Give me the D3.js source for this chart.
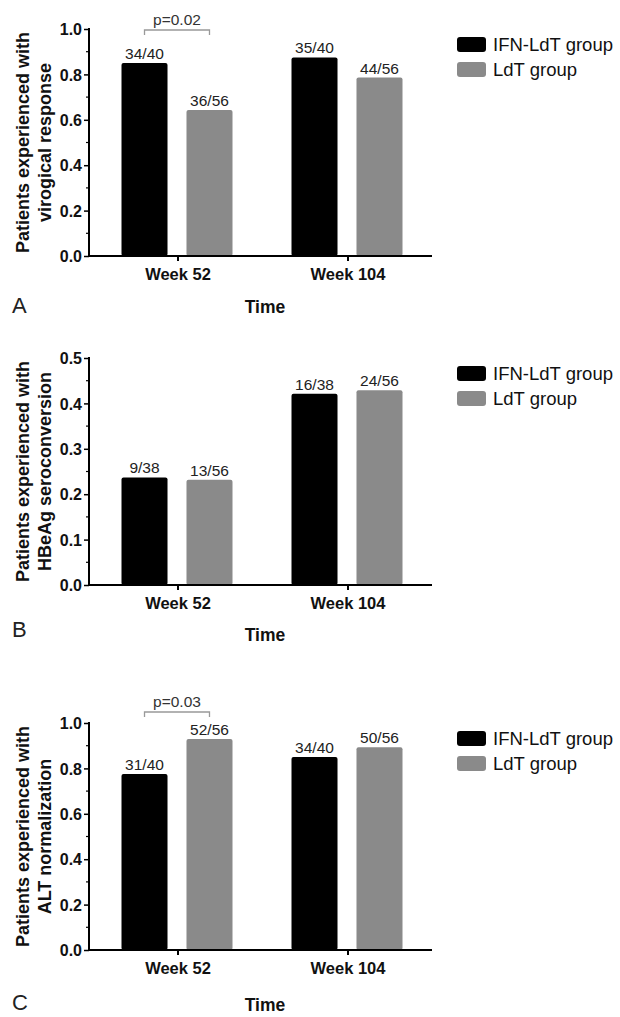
<!DOCTYPE html>
<html>
<head>
<meta charset="utf-8">
<script src="https://cdn.jsdelivr.net/npm/d3@7"></script>
<style>
  body { margin: 0; background: #fff; }
  text { font-family: "Liberation Sans", Arial, sans-serif; }
</style>
</head>
<body>
<div id="root"></div>
<script>
// data
var weeks = ["Week 52", "Week 104"];
var groups = ["IFN-LdT group", "LdT group"];
var colors = ["#000000", "#8a8a8a"];

var virologicIFN = [0.85, 0.875];
var virologicLdT = [0.643, 0.786];
var virologicLabelsIFN = ["34/40", "35/40"];
var virologicLabelsLdT = ["36/56", "44/56"];

var seroIFN = [0.237, 0.421];
var seroLdT = [0.232, 0.429];
var seroLabelsIFN = ["9/38", "16/38"];
var seroLabelsLdT = ["13/56", "24/56"];

var altIFN = [0.775, 0.85];
var altLdT = [0.929, 0.893];
var altLabelsIFN = ["31/40", "34/40"];
var altLabelsLdT = ["52/56", "50/56"];

var ticksA = [0, 0.2, 0.4, 0.6, 0.8, 1.0];
var ticksB = [0, 0.1, 0.2, 0.3, 0.4, 0.5];

var svg = d3.select("#root")
    .append("svg")
    .attr("width", 620)
    .attr("height", 1017);

// one panel per outcome
var panels = [
    { letter: "A", top: 29, yMax: 1.0, ticks: ticksA, ifn: virologicIFN, ldt: virologicLdT,
      labIfn: virologicLabelsIFN, labLdt: virologicLabelsLdT,
      title: ["Patients experienced with", "virogical response"], p: "p=0.02", timeGap: 57, letterGap: 57 },
    { letter: "B", top: 358, yMax: 0.5, ticks: ticksB, ifn: seroIFN, ldt: seroLdT,
      labIfn: seroLabelsIFN, labLdt: seroLabelsLdT,
      title: ["Patients experienced with", "HBeAg seroconversion"], p: null, timeGap: 56, letterGap: 52 },
    { letter: "C", top: 723, yMax: 1.0, ticks: ticksA, ifn: altIFN, ldt: altLdT,
      labIfn: altLabelsIFN, labLdt: altLabelsLdT,
      title: ["Patients experienced with", "ALT normalization"], p: "p=0.03", timeGap: 61, letterGap: 60 }
];

var axisLeftX = 89, axisRightX = 432, plotH = 227;

panels.forEach(function(p) { drawPanel(p); });

function drawPanel(p)
{
    var g = svg.append("g").attr("transform", "translate(0," + p.top + ")");

    var y = d3.scaleLinear().domain([0, p.yMax]).range([plotH, 0]);

    var x0 = d3.scaleBand().domain(weeks).range([92, 432]);
    var x1 = d3.scaleBand().domain(groups).range([29.5, 140.5]).paddingInner(0.292);

    // bars
    var rows = weeks.map(function(w, i) {
        return [
            { week: w, group: groups[0], v: p.ifn[i], lab: p.labIfn[i], c: colors[0] },
            { week: w, group: groups[1], v: p.ldt[i], lab: p.labLdt[i], c: colors[1] }
        ];
    }).flat();

    g.selectAll("rect.bar")
        .data(rows)
        .enter().append("rect")
        .attr("class", "bar")
        .attr("x", function(d) { return x0(d.week) + x1(d.group); })
        .attr("y", function(d) { return y(d.v); })
        .attr("width", x1.bandwidth())
        .attr("height", function(d) { return plotH - y(d.v); })
        .attr("rx", 2)
        .attr("fill", function(d) { return d.c; });

    g.selectAll("text.val")
        .data(rows)
        .enter().append("text")
        .attr("class", "val")
        .attr("x", function(d) { return x0(d.week) + x1(d.group) + x1.bandwidth() / 2; })
        .attr("y", function(d) { return y(d.v) - 4; })
        .attr("text-anchor", "middle")
        .style("font-size", "15.5px")
        .attr("fill", "#222")
        .text(function(d) { return d.lab; });

    // y axis with minor ticks
    var minor = [];
    for (var i = 0; i < p.ticks.length - 1; i++) minor.push((p.ticks[i] + p.ticks[i + 1]) / 2);

    var yAxis = g.append("g")
        .attr("transform", "translate(" + axisLeftX + ",0)")
        .call(d3.axisLeft(y).tickValues(p.ticks).tickSize(5).tickPadding(2).tickFormat(d3.format(".1f")));
    yAxis.select(".domain").attr("stroke-width", 2).attr("d", "M0,-1V" + (plotH + 1));
    yAxis.selectAll(".tick line").attr("stroke-width", 1.5);
    yAxis.selectAll(".tick text")
        .style("font-size", "16px").style("font-weight", "bold")
        .attr("fill", "#111").attr("dy", "0.36em");

    g.append("g").selectAll("line")
        .data(minor)
        .enter().append("line")
        .attr("x1", axisLeftX - 3).attr("x2", axisLeftX)
        .attr("y1", function(d) { return y(d); })
        .attr("y2", function(d) { return y(d); })
        .attr("stroke", "#000").attr("stroke-width", 1.2);

    // x axis
    g.append("line")
        .attr("x1", axisLeftX - 1).attr("x2", axisRightX)
        .attr("y1", plotH).attr("y2", plotH)
        .attr("stroke", "#000").attr("stroke-width", 2);

    g.selectAll("line.xt")
        .data(weeks)
        .enter().append("line")
        .attr("class", "xt")
        .attr("x1", function(d) { return x0(d) + x0.bandwidth() / 2 + 1; })
        .attr("x2", function(d) { return x0(d) + x0.bandwidth() / 2 + 1; })
        .attr("y1", plotH).attr("y2", plotH + 5)
        .attr("stroke", "#000").attr("stroke-width", 2);

    g.selectAll("text.xl")
        .data(weeks)
        .enter().append("text")
        .attr("class", "xl")
        .attr("x", function(d) { return x0(d) + x0.bandwidth() / 2 + 1; })
        .attr("y", plotH + 24)
        .attr("text-anchor", "middle")
        .style("font-size", "16.5px").style("font-weight", "bold")
        .attr("fill", "#111")
        .text(function(d) { return d; });

    g.append("text")
        .attr("x", 265)
        .attr("y", plotH + p.timeGap)
        .attr("text-anchor", "middle")
        .style("font-size", "17.5px").style("font-weight", "bold")
        .attr("fill", "#111")
        .text("Time");

    g.append("text")
        .attr("x", 12)
        .attr("y", plotH + p.letterGap)
        .style("font-size", "22px")
        .attr("fill", "#222")
        .text(p.letter);

    // y axis title, two lines
    g.append("text")
        .attr("transform", "translate(29," + (plotH / 2) + ") rotate(-90)")
        .attr("text-anchor", "middle")
        .style("font-size", "18px").style("font-weight", "bold")
        .attr("fill", "#111")
        .text(p.title[0]);
    g.append("text")
        .attr("transform", "translate(51," + (plotH / 2) + ") rotate(-90)")
        .attr("text-anchor", "middle")
        .style("font-size", "18px").style("font-weight", "bold")
        .attr("fill", "#111")
        .text(p.title[1]);

    // significance bracket over week 52
    if (p.p) {
        var bx1 = x0(weeks[0]) + x1(groups[0]) + x1.bandwidth() / 2;
        var bx2 = x0(weeks[0]) + x1(groups[1]) + x1.bandwidth() / 2;
        var by = p.letter === "A" ? 1 : -11;
        g.append("path")
            .attr("d", "M" + bx1 + "," + (by + 5) + "V" + by + "H" + bx2 + "V" + (by + 5))
            .attr("fill", "none")
            .attr("stroke", "#999")
            .attr("stroke-width", 1.3);
        g.append("text")
            .attr("x", (bx1 + bx2) / 2)
            .attr("y", by - 5)
            .attr("text-anchor", "middle")
            .style("font-size", "15.5px")
            .attr("fill", "#333")
            .text(p.p);
    }

    // legend
    var leg = g.append("g").attr("transform", "translate(457,8)");
    leg.selectAll("rect")
        .data(groups)
        .enter().append("rect")
        .attr("x", 0)
        .attr("y", function(d, i) { return i * 25; })
        .attr("width", 29).attr("height", 15)
        .attr("rx", 3)
        .attr("fill", function(d, i) { return colors[i]; });
    leg.selectAll("text")
        .data(groups)
        .enter().append("text")
        .attr("x", 36)
        .attr("y", function(d, i) { return i * 25 + 14; })
        .style("font-size", "18.5px")
        .attr("fill", "#111")
        .text(function(d) { return d; });
}
</script>
</body>
</html>
